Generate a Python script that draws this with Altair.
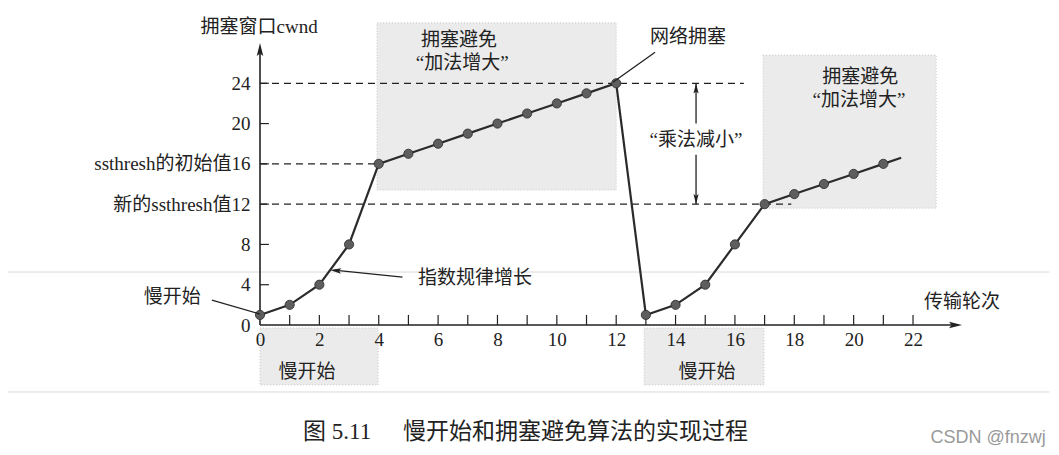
import altair as alt
import pandas as pd

# ---------------- data ----------------
rounds = list(range(22))
cwnd = [1, 2, 4, 8, 16, 17, 18, 19, 20, 21, 22, 23, 24,
        1, 2, 4, 8, 12, 13, 14, 15, 16]
tail_x = [21, 21.6]          # line continues past last point
tail_y = [16, 16.6]

x_tick_vals = list(range(1, 23))
x_label_vals = list(range(0, 23, 2))
y_tick_vals = [4, 8, 12, 16, 20, 24]
y_label_vals = [0, 4, 8, 12, 16, 20, 24]

dash_y = [24, 16, 12]
dash_x_end = [16.3, 4, 17.9]

box_x = [3.94, 16.95, 0, 12.94]
box_x2 = [12.0, 22.78, 3.98, 16.98]
box_y = [30.0, 26.8, -0.3, -0.3]
box_y2 = [13.4, 11.6, -5.95, -5.95]

scan_y = [5.26, -6.65]

XMAX = 23.65
YMAX = 28.0

FONT = "Liberation Serif, Noto Sans CJK SC"
INK = "#222222"

xs = alt.Scale(domain=[0, XMAX], nice=False, zero=False)
ys = alt.Scale(domain=[0, YMAX], nice=False, zero=False)

AX_X = alt.Axis(values=x_label_vals, domain=False, ticks=False, grid=False,
                title=None, labelFont=FONT, labelFontSize=19, labelColor=INK,
                labelPadding=5, labelOverlap=False, labelBound=False, labelFlush=False,
                zindex=1)
AX_Y = alt.Axis(values=y_label_vals, domain=False, ticks=False, grid=False,
                title=None, labelFont=FONT, labelFontSize=19, labelColor=INK,
                labelPadding=10, labelOverlap=False, labelBound=False, labelFlush=False,
                zindex=1,
                labelExpr="datum.value == 16 ? 'ssthresh的初始值16' : "
                          "(datum.value == 12 ? '新的ssthresh值12' : datum.label)")


def X(f):
    return alt.X(f, type="quantitative", scale=xs, axis=AX_X, title=None)


def Y(f):
    return alt.Y(f, type="quantitative", scale=ys, axis=AX_Y, title=None)


# ---------------- tables ----------------
pts = pd.DataFrame({"x": rounds, "y": cwnd})
line_df = pd.DataFrame({"x": rounds + tail_x[1:], "y": cwnd + tail_y[1:]})
boxes = pd.DataFrame({"x": box_x, "x2": box_x2, "y": box_y, "y2": box_y2})
dashes = pd.DataFrame({"x": [0] * 3, "x2": dash_x_end, "y": dash_y})
scans = pd.DataFrame({"x": [-8.6] * 2, "x2": [26.6] * 2, "y": scan_y})
xt = pd.DataFrame({"x": x_tick_vals, "y": [0] * len(x_tick_vals), "y2": [1.0] * len(x_tick_vals)})
yt = pd.DataFrame({"y": y_tick_vals, "x": [0] * len(y_tick_vals), "x2": [0.3] * len(y_tick_vals)})
axes_lines = pd.DataFrame({"x": [0, 0], "x2": [XMAX - 0.2, 0], "y": [0, 0], "y2": [0, YMAX - 0.6]})

leaders = pd.DataFrame({
    "x": [11.89, -1.62, 4.8, 14.69, 14.69],
    "y": [24.1, 2.48, 4.76, 24, 16.9],
    "x2": [13.31, 0, 2.5, 14.69, 14.69],
    "y2": [27.08, 1.09, 5.44, 20.0, 12],
})

texts = pd.DataFrame({
    "x": [-0.03, 6.70, 6.81, 14.42, 20.22, 20.18, 14.69, 7.24, -2.96, 1.58, 15.06, 23.65],
    "y": [29.6, 28.3, 26.0, 28.6, 24.63, 22.34, 18.37, 4.67, 2.78, -4.67, -4.67, 2.28],
    "t": ["拥塞窗口cwnd", "拥塞避免", "“加法增大”", "网络拥塞", "拥塞避免", "“加法增大”",
          "“乘法减小”", "指数规律增长", "慢开始", "慢开始", "慢开始", "传输轮次"],
})

caption = pd.DataFrame({"x": [1.45, 4.82], "y": [-10.63, -10.63],
                        "t": ["图 5.11", "慢开始和拥塞避免算法的实现过程"]})
credit = pd.DataFrame({"x": [24.53], "y": [-11.2], "t": ["CSDN @fnzwj"]})

arrow_right = "M0,0 L-1,-0.25 L-0.8,0 L-1,0.25 Z"
arrow_up = "M0,0 L-0.25,1 L0,0.8 L0.25,1 Z"
arrow_down = "M0,0 L-0.25,-1 L0,-0.8 L0.25,-1 Z"

heads_axis_x = pd.DataFrame({"x": [XMAX], "y": [0]})
heads_axis_y = pd.DataFrame({"x": [0], "y": [YMAX]})
head_up = pd.DataFrame({"x": [14.69], "y": [24]})
head_down = pd.DataFrame({"x": [14.69], "y": [12]})
head_exp = pd.DataFrame({"x": [2.36], "y": [5.46]})

# ---------------- layers ----------------
scan_layer = alt.Chart(scans).mark_rule(color="#d9d9d9", strokeWidth=1).encode(
    x=X("x"), x2="x2", y=Y("y"))

box_layer = alt.Chart(boxes).mark_rect(
    fill="#ebebeb", stroke="#c8c8c8", strokeDash=[1, 2], strokeWidth=1).encode(
    x=X("x"), x2="x2", y=Y("y"), y2="y2")

dash_layer = alt.Chart(dashes).mark_rule(
    color=INK, strokeDash=[7, 5], strokeWidth=1.2).encode(
    x=X("x"), x2="x2", y=Y("y"))

axis_layer = alt.Chart(axes_lines).mark_rule(color=INK, strokeWidth=1.6).encode(
    x=X("x"), x2="x2", y=Y("y"), y2="y2")

xtick_layer = alt.Chart(xt).mark_rule(color=INK, strokeWidth=1.2).encode(
    x=X("x"), y=Y("y"), y2="y2")

ytick_layer = alt.Chart(yt).mark_rule(color=INK, strokeWidth=1.2).encode(
    y=Y("y"), x=X("x"), x2="x2")

head_x_layer = alt.Chart(heads_axis_x).mark_point(
    shape=arrow_right, size=676, filled=True, color=INK, opacity=1).encode(x=X("x"), y=Y("y"))
head_y_layer = alt.Chart(heads_axis_y).mark_point(
    shape=arrow_up, size=676, filled=True, color=INK, opacity=1).encode(x=X("x"), y=Y("y"))
head_up_layer = alt.Chart(head_up).mark_point(
    shape=arrow_up, size=420, filled=True, color=INK, opacity=1).encode(x=X("x"), y=Y("y"))
head_down_layer = alt.Chart(head_down).mark_point(
    shape=arrow_down, size=420, filled=True, color=INK, opacity=1).encode(x=X("x"), y=Y("y"))
head_exp_layer = alt.Chart(head_exp).mark_point(
    shape=arrow_right, size=500, filled=True, color=INK, opacity=1, angle=185.5).encode(
    x=X("x"), y=Y("y"))

curve_layer = alt.Chart(line_df).mark_line(color="#2b2b2b", strokeWidth=2.2).encode(
    x=X("x"), y=Y("y"), order="x:Q")

point_layer = alt.Chart(pts).mark_circle(
    size=85, color="#5e5e5e", stroke="#2a2a2a", strokeWidth=0.8, opacity=1).encode(
    x=X("x"), y=Y("y"))

leader_layer = alt.Chart(leaders).mark_rule(color=INK, strokeWidth=1.3).encode(
    x=X("x"), y=Y("y"), x2="x2", y2="y2")

text_layer = alt.Chart(texts).mark_text(
    font=FONT, fontSize=19, color=INK, align="center", baseline="middle").encode(
    x=X("x"), y=Y("y"), text="t:N")

caption_layer = alt.Chart(caption).mark_text(
    font=FONT, fontSize=23, color=INK, align="left", baseline="middle").encode(
    x=X("x"), y=Y("y"), text="t:N")

credit_layer = alt.Chart(credit).mark_text(
    font="Liberation Sans", fontSize=18, color="#9a9a9a", align="center",
    baseline="middle").encode(x=X("x"), y=Y("y"), text="t:N")

chart = alt.layer(
    scan_layer, box_layer, dash_layer, axis_layer, xtick_layer, ytick_layer,
    head_x_layer, head_y_layer, head_up_layer, head_down_layer, head_exp_layer,
    curve_layer, point_layer, leader_layer, text_layer, caption_layer, credit_layer,
).properties(
    width=702, height=282,
    autosize=alt.AutoSizeParams(type="none"),
    padding={"left": 252, "top": 35, "right": 89, "bottom": 122},
    background="white",
).configure_view(stroke=None)

chart.save("out.html", embed_options={"renderer": "svg", "actions": False})
